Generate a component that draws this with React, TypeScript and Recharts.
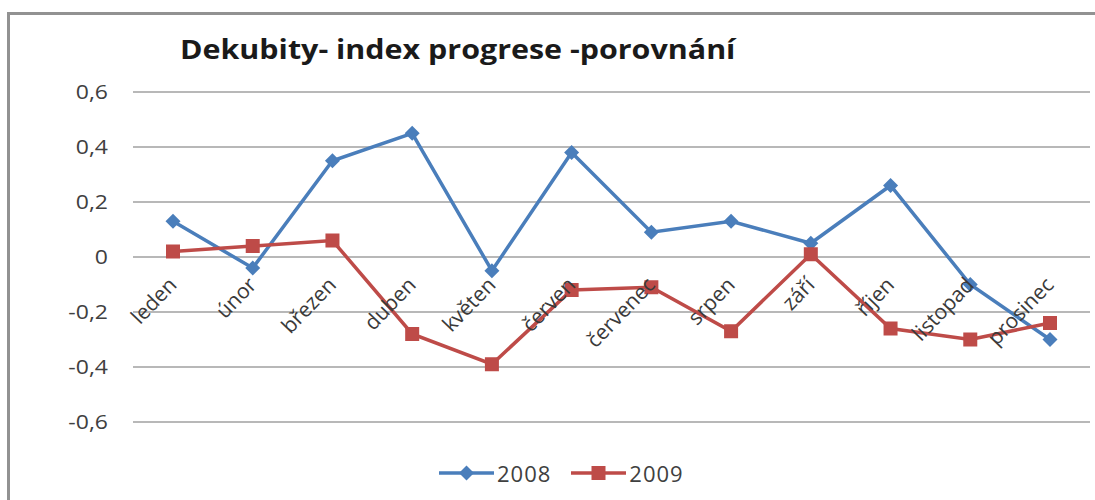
import React from 'react';
import { LineChart, Line, XAxis, YAxis, CartesianGrid } from 'recharts';

document.body.style.margin = '0';
document.documentElement.style.overflow = 'hidden';

const MONTHS = ['leden', 'únor', 'březen', 'duben', 'květen', 'červen', 'červenec', 'srpen', 'září', 'říjen', 'listopad', 'prosinec'];
const VALUES_2008 = [0.13, -0.04, 0.35, 0.45, -0.05, 0.38, 0.09, 0.13, 0.05, 0.26, -0.10, -0.30];
const VALUES_2009 = [0.02, 0.04, 0.06, -0.28, -0.39, -0.12, -0.11, -0.27, 0.01, -0.26, -0.30, -0.24];
const Y_TICKS = [-0.6, -0.4, -0.2, 0, 0.2, 0.4, 0.6];
const TITLE = 'Dekubity- index progrese -porovnání';

const SERIES = [
  { key: 'y2008', name: '2008', color: '#4a7ebb', marker: 'diamond' },
  { key: 'y2009', name: '2009', color: '#be4b48', marker: 'square' },
];

const data = MONTHS.map((m, i) => ({ month: m, y2008: VALUES_2008[i], y2009: VALUES_2009[i] }));

const W = 1095;
const H = 500;
const X_AXIS_H = 30;
const MARGIN = { top: 92, right: 5, bottom: 78 - X_AXIS_H, left: 33 };
const PLOT_H = H - MARGIN.top - MARGIN.bottom - X_AXIS_H;
const Y_MIN = -0.6;
const Y_MAX = 0.6;
// category axis crosses at 0, so the month labels sit under the zero line
const ZERO_LIFT = (PLOT_H * (0 - Y_MIN)) / (Y_MAX - Y_MIN);
const FONT = '"Open Sans", Lato, sans-serif';
// the source picture is stretched sideways a little
const STRETCH = 1.15;

const fmt = (v: number) => (v === 0 ? '0' : v.toFixed(1).replace('.', ','));

const Marker = ({ cx, cy, type, color }: any) => {
  if (cx == null || cy == null) return null;
  if (type === 'diamond') {
    const r = 7.5;
    return <polygon points={`${cx},${cy - r} ${cx + r},${cy} ${cx},${cy + r} ${cx - r},${cy}`} fill={color} />;
  }
  const s = 7;
  return <rect x={cx - s} y={cy - s} width={s * 2} height={s * 2} fill={color} />;
};

const MonthTick = ({ x, y, payload }: any) => (
  <g transform={`translate(${x + 5},${y - ZERO_LIFT + 29})`}>
    <text transform="rotate(-46)" textAnchor="end" fill="#3a3a3a" fontSize={21} fontFamily={FONT}>
      {payload.value}
    </text>
  </g>
);

const ValueTick = ({ x, y, payload }: any) => (
  <g transform={`translate(${x},${y})`}>
    <text transform={`scale(${STRETCH},1)`} textAnchor="end" dy="0.35em" fill="#404040" fontSize={20} fontFamily={FONT}>
      {fmt(payload.value)}
    </text>
  </g>
);

const LegendBox = () => (
  <div style={{ position: 'absolute', left: 439, top: 458, display: 'flex', alignItems: 'center', fontFamily: FONT, fontSize: 22, color: '#404040' }}>
    {SERIES.map((s) => (
      <div key={s.key} style={{ display: 'flex', alignItems: 'center', marginRight: 20 }}>
        <svg width={55} height={28}>
          <line x1={0} y1={14} x2={55} y2={14} stroke={s.color} strokeWidth={3.5} />
          <Marker cx={27.5} cy={14} type={s.marker} color={s.color} />
        </svg>
        <span style={{ marginLeft: 3, letterSpacing: 1 }}>{s.name}</span>
      </div>
    ))}
  </div>
);

export default function App() {
  return (
    <div style={{ position: 'relative', width: W, height: H, background: '#fff' }}>
      <div style={{ position: 'absolute', left: 7, top: 12, width: 3, height: H - 12, background: '#929292' }} />
      <div style={{ position: 'absolute', left: 7, top: 12, width: W - 7, height: 3, background: '#929292' }} />
      <div
        style={{
          position: 'absolute',
          left: 180,
          top: 34,
          fontFamily: FONT,
          fontWeight: 700,
          fontSize: 26,
          lineHeight: '30px',
          color: '#1a1a1a',
          whiteSpace: 'nowrap',
          transform: 'scaleX(1.17)',
          transformOrigin: 'left top',
        }}
      >
        {TITLE}
      </div>
      <div style={{ position: 'absolute', left: 0, top: 0 }}>
        <LineChart width={W} height={H} data={data} margin={MARGIN}>
          <CartesianGrid vertical={false} stroke="#a0a0a0" strokeWidth={1.3} />
          <XAxis
            dataKey="month"
            height={X_AXIS_H}
            padding={{ left: 40, right: 40 }}
            axisLine={false}
            tickLine={false}
            tickSize={0}
            tickMargin={0}
            interval={0}
            tick={<MonthTick />}
          />
          <YAxis
            width={100}
            domain={[Y_MIN, Y_MAX]}
            ticks={Y_TICKS}
            axisLine={false}
            tickLine={false}
            tickSize={0}
            tickMargin={25}
            tick={<ValueTick />}
          />
          {SERIES.map((s) => (
            <Line
              key={s.key}
              dataKey={s.key}
              name={s.name}
              stroke={s.color}
              strokeWidth={3.5}
              isAnimationActive={false}
              dot={(p: any) => <Marker key={`${s.key}-${p.index}`} cx={p.cx} cy={p.cy} type={s.marker} color={s.color} />}
              activeDot={false}
            />
          ))}
        </LineChart>
      </div>
      <LegendBox />
    </div>
  );
}
